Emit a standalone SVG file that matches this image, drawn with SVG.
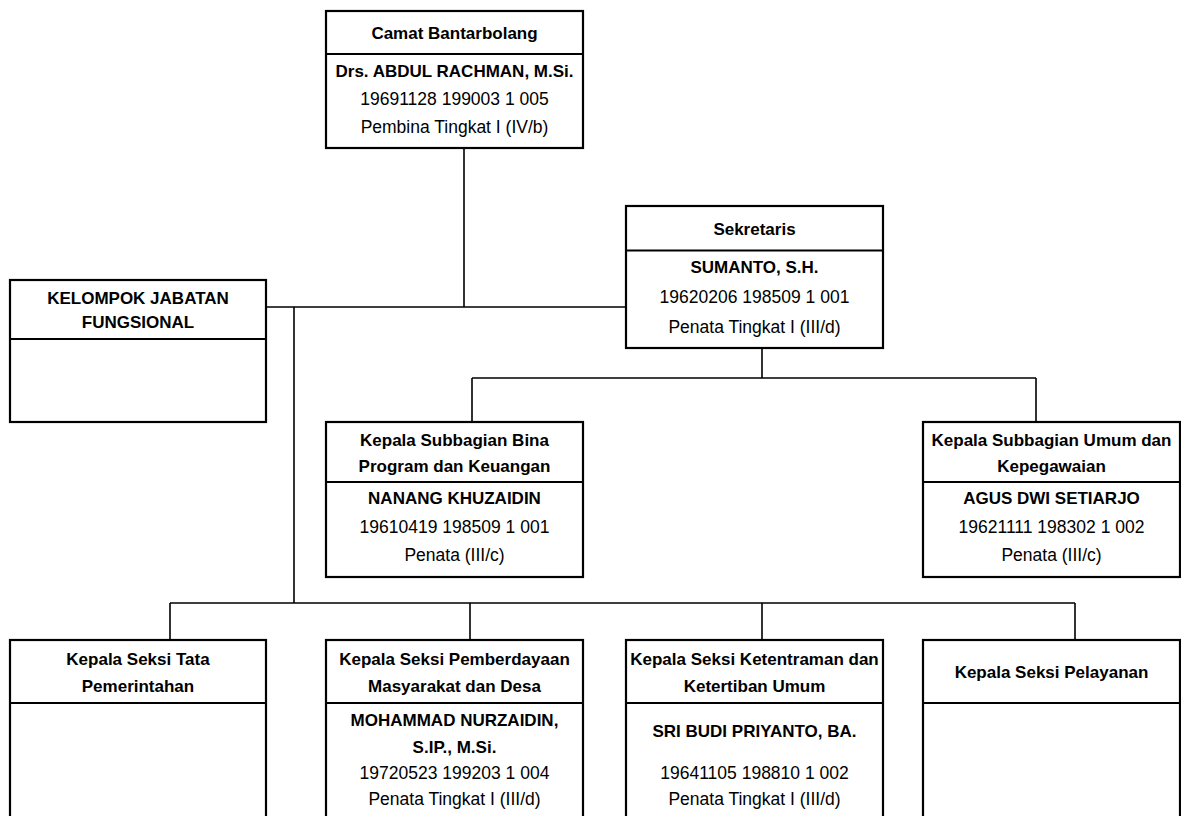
<svg xmlns="http://www.w3.org/2000/svg" width="1181" height="816" viewBox="0 0 1181 816">
<style>
.box{fill:#fff;stroke:#000;stroke-width:2.2}
.dv{stroke:#000;stroke-width:2}
.conn{stroke:#000;stroke-width:1.6;fill:none}
text{font-family:"Liberation Sans",Arial,sans-serif;font-size:17.5px;text-anchor:middle;fill:#000}
.b{font-weight:bold;font-size:17px}
</style>
<rect width="1181" height="816" fill="#fff"/>
<g id="connectors">
<path class="conn" d="M464 148V307M266 307H626M294 307V603M170 603H1075M170 603V640M470 603V640M762 603V640M1075 603V640M762 348V378M472 378H1036M472 378V422M1036 378V422"/>
</g>
<g id="camat">
<rect class="box" x="326" y="11" width="257" height="137"/>
<line class="dv" x1="326" y1="54" x2="583" y2="54"/>
<text class="b" x="454.5" y="38.5">Camat Bantarbolang</text>
<text class="b" x="454.5" y="76.5">Drs. ABDUL RACHMAN, M.Si.</text>
<text x="454.5" y="104.5">19691128 199003 1 005</text>
<text x="454.5" y="132.5">Pembina Tingkat I (IV/b)</text>
</g>
<g id="sekretaris">
<rect class="box" x="626" y="206" width="257" height="142"/>
<line class="dv" x1="626" y1="250.5" x2="883" y2="250.5"/>
<text class="b" x="754.5" y="235">Sekretaris</text>
<text class="b" x="754.5" y="272.5">SUMANTO, S.H.</text>
<text x="754.5" y="302.5">19620206 198509 1 001</text>
<text x="754.5" y="332.5">Penata Tingkat I (III/d)</text>
</g>
<g id="kelompok">
<rect class="box" x="10" y="280" width="256" height="142"/>
<line class="dv" x1="10" y1="339" x2="266" y2="339"/>
<text class="b" x="138" y="304">KELOMPOK JABATAN</text>
<text class="b" x="138" y="328">FUNGSIONAL</text>
</g>
<g id="subbag-bina">
<rect class="box" x="326" y="422" width="257" height="155"/>
<line class="dv" x1="326" y1="482" x2="583" y2="482"/>
<text class="b" x="454.5" y="446">Kepala Subbagian Bina</text>
<text class="b" x="454.5" y="472">Program dan Keuangan</text>
<text class="b" x="454.5" y="504">NANANG KHUZAIDIN</text>
<text x="454.5" y="533">19610419 198509 1 001</text>
<text x="454.5" y="561">Penata (III/c)</text>
</g>
<g id="subbag-umum">
<rect class="box" x="923" y="422" width="257" height="155"/>
<line class="dv" x1="923" y1="482" x2="1180" y2="482"/>
<text class="b" x="1051.5" y="446">Kepala Subbagian Umum dan</text>
<text class="b" x="1051.5" y="472">Kepegawaian</text>
<text class="b" x="1051.5" y="504">AGUS DWI SETIARJO</text>
<text x="1051.5" y="533">19621111 198302 1 002</text>
<text x="1051.5" y="561">Penata (III/c)</text>
</g>
<g id="seksi-tapem">
<rect class="box" x="10" y="640" width="256" height="200"/>
<line class="dv" x1="10" y1="703" x2="266" y2="703"/>
<text class="b" x="138" y="665">Kepala Seksi Tata</text>
<text class="b" x="138" y="691.5">Pemerintahan</text>
</g>
<g id="seksi-pmd">
<rect class="box" x="326" y="640" width="257" height="200"/>
<line class="dv" x1="326" y1="703" x2="583" y2="703"/>
<text class="b" x="454.5" y="665">Kepala Seksi Pemberdayaan</text>
<text class="b" x="454.5" y="691.5">Masyarakat dan Desa</text>
<text class="b" x="454.5" y="726">MOHAMMAD NURZAIDIN,</text>
<text class="b" x="454.5" y="752.5">S.IP., M.Si.</text>
<text x="454.5" y="779">19720523 199203 1 004</text>
<text x="454.5" y="805">Penata Tingkat I (III/d)</text>
</g>
<g id="seksi-trantib">
<rect class="box" x="626" y="640" width="257" height="200"/>
<line class="dv" x1="626" y1="703" x2="883" y2="703"/>
<text class="b" x="754.5" y="665">Kepala Seksi Ketentraman dan</text>
<text class="b" x="754.5" y="691.5">Ketertiban Umum</text>
<text class="b" x="754.5" y="737">SRI BUDI PRIYANTO, BA.</text>
<text x="754.5" y="779">19641105 198810 1 002</text>
<text x="754.5" y="805">Penata Tingkat I (III/d)</text>
</g>
<g id="seksi-pelayanan">
<rect class="box" x="923" y="640" width="257" height="200"/>
<line class="dv" x1="923" y1="703" x2="1180" y2="703"/>
<text class="b" x="1051.5" y="678">Kepala Seksi Pelayanan</text>
</g>
</svg>
